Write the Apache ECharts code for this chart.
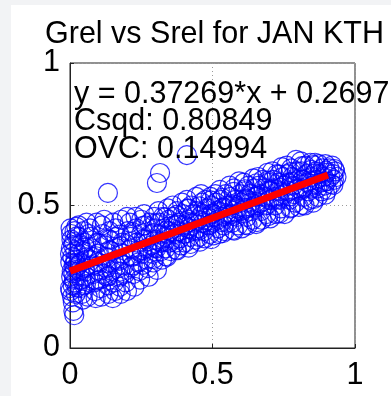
<!DOCTYPE html>
<html>
<head>
<meta charset="utf-8">
<script src="https://cdn.jsdelivr.net/npm/echarts@6/dist/echarts.min.js"></script>
<style>
html,body{margin:0;padding:0;background:#f2f3f5;width:391px;height:396px;overflow:hidden;}
#chart{position:absolute;left:11px;top:5px;width:380px;height:391px;background:#fff;}
</style>
</head>
<body>
<div id="chart"></div>
<script>
const titleText = 'Grel vs Srel for JAN KTH';
const xTicks = [0, 0.5, 1];
const yTicks = [0, 0.5, 1];
const fitSlope = 0.37269;
const fitIntercept = 0.2697;
const fitRange = [0, 0.905];
const csqd = '0.80849';
const ovc = '0.14994';

// Srel (x), Grel (y) pairs
const pointsA = [
[0.002,0.42],[0.005,0.38],[0.003,0.35],[0.008,0.32],[0.001,0.30],[0.006,0.27],[0.004,0.25],[0.009,0.22],[0.002,0.20],[0.007,0.18],[0.01,0.16],[0.012,0.13],[0.015,0.115],[0.004,0.40],[0.011,0.36],[0.013,0.29],[0.0,0.33],[0.014,0.24],[0.0,0.21],[0.016,0.41],[0.018,0.34],[0.017,0.28],[0.02,0.19],[0.019,0.31],[0.022,0.425],
[0.03,0.43],[0.032,0.39],[0.035,0.36],[0.028,0.33],[0.038,0.30],[0.033,0.27],[0.04,0.24],[0.036,0.21],[0.042,0.19],[0.045,0.17],[0.048,0.41],[0.05,0.37],[0.047,0.34],[0.052,0.28],[0.055,0.25],[0.05,0.22],[0.058,0.44],[0.06,0.31],[0.062,0.18],
[0.07,0.42],[0.072,0.39],[0.075,0.35],[0.078,0.32],[0.08,0.29],[0.083,0.26],[0.085,0.23],[0.088,0.20],[0.09,0.175],[0.093,0.44],[0.095,0.37],[0.098,0.33],[0.1,0.30],[0.102,0.27],[0.105,0.24],[0.108,0.21],[0.11,0.18],[0.112,0.43],[0.115,0.40],
[0.12,0.45],[0.122,0.36],[0.125,0.32],[0.128,0.28],[0.13,0.25],[0.133,0.22],[0.135,0.19],[0.138,0.41],[0.14,0.38],[0.143,0.34],[0.145,0.30],[0.148,0.27],[0.15,0.175],[0.152,0.44],[0.155,0.23],[0.158,0.20],[0.133,0.544],
[0.16,0.42],[0.163,0.39],[0.165,0.35],[0.168,0.31],[0.17,0.28],[0.173,0.25],[0.175,0.215],[0.178,0.19],[0.18,0.45],[0.183,0.37],[0.186,0.33],[0.19,0.29],[0.193,0.26],[0.196,0.23],[0.2,0.20],[0.2,0.46],[0.203,0.41]
];
const pointsB = [
[0.21,0.44],[0.213,0.39],[0.215,0.35],[0.218,0.32],[0.22,0.29],[0.223,0.26],[0.226,0.215],[0.23,0.46],[0.232,0.42],[0.235,0.37],[0.238,0.34],[0.24,0.30],[0.243,0.27],[0.246,0.24],[0.25,0.45],[0.25,0.40],[0.253,0.33],
[0.26,0.47],[0.263,0.43],[0.265,0.38],[0.268,0.35],[0.27,0.31],[0.273,0.28],[0.276,0.25],[0.28,0.44],[0.283,0.40],[0.286,0.36],[0.29,0.33],[0.293,0.30],[0.296,0.46],[0.3,0.42],[0.3,0.38],[0.303,0.35],[0.305,0.274],[0.305,0.579],[0.316,0.614],
[0.31,0.48],[0.313,0.44],[0.315,0.40],[0.318,0.37],[0.32,0.34],[0.323,0.31],[0.326,0.46],[0.33,0.42],[0.333,0.39],[0.336,0.35],[0.34,0.32],[0.343,0.49],[0.346,0.45],[0.35,0.41],[0.35,0.37],[0.353,0.34],
[0.36,0.50],[0.363,0.46],[0.365,0.43],[0.368,0.40],[0.37,0.37],[0.373,0.345],[0.376,0.48],[0.38,0.44],[0.383,0.41],[0.386,0.385],[0.39,0.36],[0.393,0.51],[0.396,0.47],[0.4,0.43],[0.4,0.40],[0.403,0.37],
[0.41,0.52],[0.413,0.49],[0.415,0.45],[0.418,0.42],[0.42,0.39],[0.423,0.365],[0.426,0.50],[0.43,0.47],[0.433,0.44],[0.436,0.41],[0.44,0.38],[0.443,0.53],[0.446,0.48],[0.45,0.45],[0.45,0.42],[0.453,0.39],[0.41,0.677],
[0.46,0.54],[0.463,0.51],[0.465,0.47],[0.468,0.44],[0.47,0.41],[0.473,0.385],[0.476,0.52],[0.48,0.49],[0.483,0.46],[0.486,0.43],[0.49,0.40],[0.493,0.53],[0.496,0.50],[0.5,0.47],[0.5,0.44],[0.503,0.395]
];
const pointsC = [
[0.51,0.54],[0.513,0.51],[0.515,0.48],[0.518,0.45],[0.52,0.42],[0.523,0.40],[0.526,0.555],[0.53,0.52],[0.533,0.49],[0.536,0.46],[0.54,0.43],[0.543,0.41],[0.546,0.54],[0.55,0.50],[0.55,0.47],[0.553,0.44],
[0.56,0.57],[0.563,0.53],[0.565,0.50],[0.568,0.47],[0.57,0.44],[0.573,0.415],[0.576,0.56],[0.58,0.52],[0.583,0.49],[0.586,0.46],[0.59,0.43],[0.593,0.585],[0.596,0.54],[0.6,0.51],[0.6,0.48],[0.603,0.42],
[0.61,0.58],[0.613,0.55],[0.615,0.52],[0.618,0.49],[0.62,0.46],[0.623,0.43],[0.626,0.57],[0.63,0.54],[0.633,0.51],[0.636,0.48],[0.64,0.45],[0.643,0.595],[0.646,0.56],[0.65,0.53],[0.65,0.50],[0.653,0.435],
[0.66,0.60],[0.663,0.57],[0.665,0.54],[0.668,0.51],[0.67,0.48],[0.673,0.45],[0.676,0.59],[0.68,0.56],[0.683,0.53],[0.686,0.50],[0.69,0.47],[0.693,0.615],[0.696,0.58],[0.7,0.55],[0.7,0.52],[0.703,0.455],
[0.71,0.62],[0.713,0.59],[0.715,0.56],[0.718,0.53],[0.72,0.50],[0.723,0.47],[0.726,0.61],[0.73,0.58],[0.733,0.55],[0.736,0.52],[0.74,0.49],[0.743,0.635],[0.746,0.60],[0.75,0.57],[0.75,0.54],[0.753,0.47]
];
const pointsD = [
[0.76,0.64],[0.763,0.61],[0.765,0.58],[0.768,0.55],[0.77,0.52],[0.773,0.49],[0.776,0.63],[0.78,0.60],[0.783,0.57],[0.786,0.54],[0.79,0.51],[0.793,0.66],[0.796,0.62],[0.8,0.59],[0.8,0.56],[0.803,0.495],
[0.81,0.655],[0.813,0.62],[0.815,0.59],[0.818,0.56],[0.82,0.53],[0.823,0.50],[0.826,0.64],[0.83,0.61],[0.833,0.58],[0.836,0.55],[0.84,0.52],[0.843,0.65],[0.846,0.625],[0.85,0.60],[0.85,0.57],[0.853,0.51],
[0.86,0.65],[0.863,0.62],[0.865,0.59],[0.868,0.56],[0.87,0.53],[0.873,0.645],[0.876,0.61],[0.88,0.58],[0.883,0.55],[0.886,0.63],[0.89,0.60],[0.893,0.57],[0.896,0.645],[0.9,0.615],[0.9,0.585],[0.903,0.555],
[0.91,0.63],[0.913,0.60],[0.916,0.575],[0.92,0.64],[0.923,0.61],[0.926,0.59],[0.93,0.62],[0.935,0.60]
];
const pointsE = [
[0.015,0.23],[0.012,0.262],[0.018,0.298],[0.014,0.372],[0.025,0.212],[0.027,0.288],[0.024,0.392],
[0.056,0.224],[0.053,0.268],[0.058,0.318],[0.054,0.352],[0.066,0.40],
[0.094,0.236],[0.097,0.287],[0.092,0.322],[0.099,0.368],[0.118,0.26],
[0.136,0.252],[0.132,0.297],[0.139,0.343],[0.134,0.382],
[0.176,0.268],[0.172,0.306],[0.179,0.357],[0.174,0.398],
[0.214,0.283],[0.217,0.322],[0.212,0.372],[0.219,0.407],
[0.256,0.292],[0.252,0.343],[0.258,0.382],[0.254,0.428],
[0.294,0.313],[0.297,0.352],[0.292,0.403],[0.298,0.437],
[0.336,0.322],[0.332,0.372],[0.338,0.412],[0.334,0.458],
[0.376,0.343],[0.372,0.382],[0.378,0.433],[0.374,0.467],
[0.416,0.352],[0.412,0.403],[0.418,0.442],[0.414,0.488],
[0.456,0.373],[0.452,0.412],[0.458,0.463],[0.454,0.497],
[0.496,0.382],[0.492,0.433],[0.498,0.472],[0.494,0.518],
[0.536,0.403],[0.532,0.442],[0.538,0.493],[0.534,0.527],
[0.576,0.412],[0.572,0.463],[0.578,0.502],[0.574,0.548],
[0.616,0.433],[0.612,0.472],[0.618,0.523],[0.614,0.557],
[0.656,0.442],[0.652,0.493],[0.658,0.532],[0.654,0.578],
[0.696,0.463],[0.692,0.502],[0.698,0.553],[0.694,0.587],
[0.736,0.472],[0.732,0.523],[0.738,0.562],[0.734,0.608],
[0.776,0.493],[0.772,0.532],[0.778,0.583],[0.774,0.617],
[0.816,0.502],[0.812,0.553],[0.818,0.592],[0.814,0.638],
[0.856,0.523],[0.852,0.562],[0.858,0.613],[0.854,0.642],
[0.896,0.538],[0.892,0.583],[0.898,0.622],[0.924,0.572],[0.928,0.628]
];

const points = pointsA.concat(pointsB, pointsC, pointsD, pointsE);
const fitLine = fitRange.map(x => [x, fitSlope * x + fitIntercept]);

const FONT = 'Liberation Sans, Arial, Helvetica, sans-serif';
const FS = 30.5;
const chart = echarts.init(document.getElementById('chart'), null, {renderer: 'canvas'});
const axisCommon = {
  min: 0, max: 1, interval: 0.5,
  axisLine: {show: true, onZero: false, lineStyle: {color: '#222', width: 1}},
  axisTick: {show: true, inside: true, length: 4, lineStyle: {color: '#222'}},
  splitLine: {show: true, lineStyle: {color: '#9a9a9a', type: [1, 3], width: 1}},
  axisLabel: {color: '#000', fontSize: FS, fontFamily: FONT,
    formatter: v => (xTicks.indexOf(v) >= 0 ? String(v) : '')}
};
chart.setOption({
  animation: false,
  backgroundColor: '#fff',
  title: {
    text: titleText, left: 29, top: 9,
    textStyle: {color: '#000', fontSize: FS, fontWeight: 'normal', fontFamily: FONT}
  },
  grid: {left: 59, top: 58, width: 285, height: 285, show: true, borderColor: '#222', borderWidth: 1, backgroundColor: 'transparent'},
  xAxis: Object.assign({}, axisCommon, {type: 'value', axisLabel: Object.assign({}, axisCommon.axisLabel, {margin: 12})}),
  yAxis: Object.assign({}, axisCommon, {type: 'value', axisLabel: Object.assign({}, axisCommon.axisLabel, {margin: 10})}),
  series: [
    {
      type: 'scatter', data: points, symbol: 'circle', symbolSize: 19,
      itemStyle: {color: 'rgba(0,0,0,0)', borderColor: '#0000ff', borderWidth: 1.2},
      emphasis: {disabled: true}, z: 2
    },
    {
      type: 'line', data: fitLine, symbol: 'none', showSymbol: false,
      lineStyle: {color: '#ff0000', width: 7, cap: 'butt'}, z: 3
    }
  ],
  graphic: [
    {type: 'text', left: 63, top: 74, z: 10, style: {text: 'y = ' + fitSlope + '*x + ' + fitIntercept, fill: '#000', font: FS + 'px ' + FONT}},
    {type: 'text', left: 63, top: 101, z: 10, style: {text: 'Csqd: ' + csqd, fill: '#000', font: FS + 'px ' + FONT}},
    {type: 'text', left: 63, top: 129, z: 10, style: {text: 'OVC: ' + ovc, fill: '#000', font: FS + 'px ' + FONT}}
  ]
});
</script>
</body>
</html>
